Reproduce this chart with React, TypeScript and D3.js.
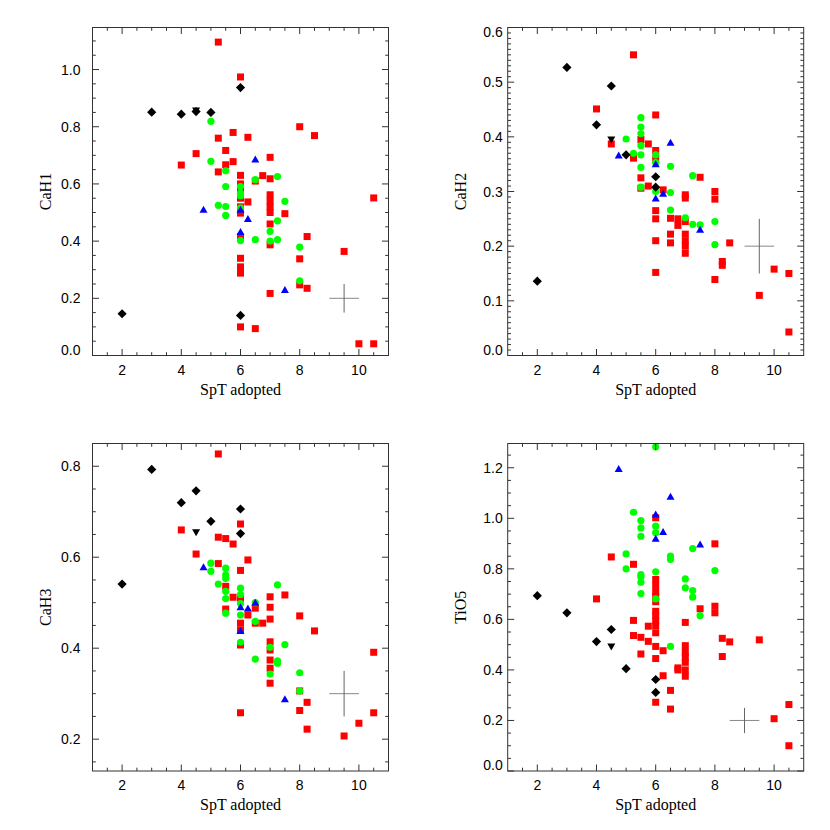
import React from 'react';
import * as d3 from 'd3';

type Pt = [number, number];

// ---------- CaH1 ----------
const cah1Black: Pt[] = [[2,0.146],[3,0.851],[4,0.844],[4.5,0.853],[5,0.85],[6,0.937],[6,0.14]];
const cah1Down: Pt[] = [[4.5,0.857]];
const cah1Red: Pt[] = [[4,0.666],[4.5,0.706],[5.25,1.096],[5.25,0.76],[5.25,0.642],[5.5,0.717],[5.5,0.667],[5.75,0.78],[5.75,0.678],[6,0.974],[6,0.63],[6,0.60],[6,0.58],[6,0.55],[6,0.52],[6,0.498],[6,0.415],[6,0.34],[6,0.31],[6,0.288],[6,0.10],[6.25,0.763],[6.25,0.537],[6.5,0.61],[6.5,0.094],[6.75,0.629],[7,0.693],[7,0.618],[7,0.562],[7,0.54],[7,0.52],[7,0.50],[7,0.46],[7,0.387],[7,0.217],[7.5,0.496],[8,0.80],[8,0.338],[8,0.247],[8.25,0.416],[8.25,0.235],[8.5,0.769],[9.5,0.364],[10,0.041],[10.5,0.041],[10.5,0.551]];
const cah1Green: Pt[] = [[5,0.819],[5,0.679],[5.25,0.525],[5.5,0.646],[5.5,0.591],[5.5,0.521],[5.5,0.49],[6,0.591],[6,0.568],[6,0.559],[6,0.516],[6,0.402],[6.5,0.615],[6.5,0.405],[7,0.434],[7,0.40],[7.25,0.626],[7.25,0.471],[7.25,0.405],[7.5,0.539],[8,0.379],[8,0.261]];
const cah1Blue: Pt[] = [[4.75,0.51],[6,0.51],[6,0.432],[6.25,0.477],[6.5,0.685],[7.5,0.229]];

// ---------- CaH2 ----------
const cah2Black: Pt[] = [[2,0.136],[3,0.527],[4,0.422],[4.5,0.493],[5,0.367],[6,0.327],[6,0.308]];
const cah2Down: Pt[] = [[4.5,0.395]];
const cah2Red: Pt[] = [[4,0.451],[4.5,0.387],[5.25,0.55],[5.25,0.361],[5.5,0.395],[5.5,0.325],[5.5,0.306],[5.75,0.387],[5.75,0.31],[6,0.44],[6,0.375],[6,0.358],[6,0.265],[6,0.25],[6,0.21],[6,0.152],[6.25,0.303],[6.5,0.251],[6.5,0.222],[6.5,0.206],[6.75,0.25],[6.75,0.238],[7,0.294],[7,0.288],[7,0.245],[7,0.222],[7,0.21],[7,0.2],[7,0.187],[7.5,0.326],[8,0.30],[8,0.286],[8,0.139],[8.25,0.172],[8.25,0.165],[8.5,0.206],[9.5,0.11],[10,0.158],[10.5,0.15],[10.5,0.043]];
const cah2Green: Pt[] = [[5,0.396],[5.25,0.37],[5.5,0.435],[5.5,0.418],[5.5,0.406],[5.5,0.384],[5.5,0.367],[5.5,0.344],[5.5,0.308],[6,0.367],[6,0.353],[6,0.3],[6.5,0.346],[6.5,0.298],[6.5,0.266],[7,0.252],[7.25,0.329],[7.25,0.24],[7.5,0.239],[8,0.245],[8,0.203]];
const cah2Blue: Pt[] = [[4.75,0.366],[6,0.35],[6,0.287],[6.25,0.296],[6.5,0.389],[7.5,0.23]];

// ---------- CaH3 ----------
const cah3Black: Pt[] = [[2,0.541],[3,0.793],[4,0.72],[4.5,0.746],[5,0.679],[6,0.706],[6,0.652]];
const cah3Down: Pt[] = [[4.5,0.655]];
const cah3Red: Pt[] = [[4,0.66],[4.5,0.607],[5.25,0.827],[5.25,0.644],[5.25,0.586],[5.5,0.641],[5.5,0.536],[5.5,0.486],[5.75,0.629],[5.75,0.512],[6,0.673],[6,0.571],[6,0.51],[6,0.455],[6,0.44],[6,0.407],[6,0.258],[6.25,0.594],[6.25,0.473],[6.5,0.488],[6.5,0.455],[6.75,0.455],[7,0.513],[7,0.49],[7,0.464],[7,0.414],[7,0.396],[7,0.374],[7,0.356],[7,0.323],[7.5,0.517],[8,0.471],[8,0.306],[8,0.263],[8.25,0.281],[8.25,0.222],[8.5,0.438],[9.5,0.207],[10,0.235],[10.5,0.391],[10.5,0.258]];
const cah3Green: Pt[] = [[5,0.587],[5,0.569],[5.25,0.541],[5.5,0.576],[5.5,0.561],[5.5,0.553],[5.5,0.525],[5.5,0.509],[5.5,0.477],[6,0.532],[6,0.518],[6,0.498],[6,0.473],[6,0.413],[6.5,0.50],[6.5,0.459],[6.5,0.376],[7,0.402],[7,0.343],[7.25,0.539],[7.25,0.372],[7.25,0.367],[7.5,0.408],[8,0.346],[8,0.306]];
const cah3Blue: Pt[] = [[4.75,0.578],[6,0.49],[6,0.438],[6.25,0.487],[6.5,0.50],[7.5,0.288]];

// ---------- TiO5 ----------
const tio5Black: Pt[] = [[2,0.694],[3,0.626],[4,0.512],[4.5,0.56],[5,0.405],[6,0.362],[6,0.311]];
const tio5Down: Pt[] = [[4.5,0.493]];
const tio5Red: Pt[] = [[4,0.681],[4.5,0.847],[5.25,0.818],[5.25,0.596],[5.25,0.536],[5.5,0.529],[5.5,0.463],[5.75,0.573],[5.75,0.513],[6,1.002],[6,0.758],[6,0.735],[6,0.71],[6,0.69],[6,0.67],[6,0.632],[6,0.615],[6,0.595],[6,0.575],[6,0.547],[6,0.493],[6,0.445],[6,0.272],[6.25,0.476],[6.25,0.377],[6.5,0.319],[6.5,0.245],[6.75,0.408],[6.75,0.40],[7,0.588],[7,0.496],[7,0.47],[7,0.45],[7,0.43],[7,0.40],[7,0.375],[7.5,0.642],[8,0.899],[8,0.652],[8,0.626],[8.25,0.525],[8.25,0.453],[8.5,0.511],[9.5,0.519],[10,0.207],[10.5,0.263],[10.5,0.1]];
const tio5Green: Pt[] = [[5,0.859],[5,0.8],[5.25,1.024],[5.5,0.991],[5.5,0.962],[5.5,0.929],[5.5,0.777],[5.5,0.768],[5.5,0.747],[5.5,0.702],[6,1.283],[6,0.969],[6,0.943],[6,0.788],[6,0.681],[6.5,0.85],[6.5,0.837],[6.5,0.493],[7,0.76],[7,0.725],[7.25,0.88],[7.25,0.714],[7.25,0.688],[7.5,0.615],[8,0.793]];
const tio5Blue: Pt[] = [[4.75,1.195],[6,1.015],[6,0.919],[6.25,0.946],[6.5,1.085],[7.5,0.896]];

// axis settings
const xDomain: [number, number] = [1, 11];
const xMajorTicks = [2, 4, 6, 8, 10];
const xMinorStep = 0.5;
const xTitle = 'SpT adopted';
const yTitles = ['CaH1', 'CaH2', 'CaH3', 'TiO5'];
const yDomains: [number, number][] = [[0, 1.147], [0, 0.6], [0.13, 0.85], [0, 1.296]];
const yMajorSteps = [0.2, 0.1, 0.2, 0.2];
const yMinorSteps = [0.05, 0.01, 0.05, 0.05];
// error crosses: [x, y, dx, dy]
const crosses: [number, number, number, number][] = [[9.5, 0.2, 0.5, 0.05], [9.5, 0.2, 0.5, 0.05], [9.5, 0.3, 0.5, 0.05], [9, 0.2, 0.5, 0.05]];

const panelData = [
  { red: cah1Red, green: cah1Green, blue: cah1Blue, black: cah1Black, down: cah1Down },
  { red: cah2Red, green: cah2Green, blue: cah2Blue, black: cah2Black, down: cah2Down },
  { red: cah3Red, green: cah3Green, blue: cah3Blue, black: cah3Black, down: cah3Down },
  { red: tio5Red, green: tio5Green, blue: tio5Blue, black: tio5Black, down: tio5Down },
];

const layout = [
  { x0: 92.5, y0: 27.5, w: 296, h: 328, labelGap: 12 },
  { x0: 507.7, y0: 27.5, w: 296, h: 328, labelGap: 5 },
  { x0: 92.5, y0: 443.5, w: 296, h: 327.5, labelGap: 12 },
  { x0: 507.7, y0: 443.5, w: 296, h: 327.5, labelGap: 5 },
];

function stepTicks(lo: number, hi: number, step: number): number[] {
  const a = Math.ceil(lo / step - 1e-6);
  const b = Math.floor(hi / step + 1e-6);
  return d3.range(a, b + 1).map((i) => +(i * step).toFixed(6));
}

const SANS = 'Liberation Sans, Arial, sans-serif';
const SERIF = 'Liberation Serif, Times New Roman, serif';

function Panel({ idx }: { idx: number }) {
  const L = layout[idx];
  const d = panelData[idx];
  const x = d3.scaleLinear().domain(xDomain).range([L.x0, L.x0 + L.w]);
  const y = d3.scaleLinear().domain(yDomains[idx]).range([L.y0 + L.h, L.y0]);
  const [ylo, yhi] = yDomains[idx];
  const yMaj = stepTicks(ylo, yhi, yMajorSteps[idx]);
  const yMin = stepTicks(ylo, yhi, yMinorSteps[idx]).filter(
    (v) => Math.abs(v / yMajorSteps[idx] - Math.round(v / yMajorSteps[idx])) > 1e-6
  );
  const xMin = stepTicks(xDomain[0], xDomain[1], xMinorStep).filter(
    (v) => !xMajorTicks.includes(v) && v > xDomain[0] && v < xDomain[1]
  );
  const bottom = L.y0 + L.h;
  const right = L.x0 + L.w;
  const majLen = 6.5;
  const minLen = 3.3;
  const tickColor = '#333';
  const s = 3.5; // square half side
  const r = 3.6;
  const dia = 4.6;
  const tri = 4;
  const c = crosses[idx];
  const fmt = d3.format('.1f');
  return (
    <g>
      {/* red squares */}
      {d.red.map((p, i) => (
        <rect key={'r' + i} x={x(p[0]) - s} y={y(p[1]) - s} width={2 * s} height={2 * s} fill="#ff0000" />
      ))}
      {d.green.map((p, i) => (
        <circle key={'g' + i} cx={x(p[0])} cy={y(p[1])} r={r} fill="#00ff00" />
      ))}
      {d.blue.map((p, i) => {
        const cx = x(p[0]);
        const cy = y(p[1]);
        return (
          <path key={'b' + i} d={`M${cx},${cy - tri}L${cx + tri},${cy + tri * 0.75}L${cx - tri},${cy + tri * 0.75}Z`} fill="#0000ff" />
        );
      })}
      {d.black.map((p, i) => {
        const cx = x(p[0]);
        const cy = y(p[1]);
        return (
          <path key={'k' + i} d={`M${cx},${cy - dia}L${cx + dia},${cy}L${cx},${cy + dia}L${cx - dia},${cy}Z`} fill="#000" />
        );
      })}
      {d.down.map((p, i) => {
        const cx = x(p[0]);
        const cy = y(p[1]);
        return (
          <path key={'d' + i} d={`M${cx - tri},${cy - tri * 0.75}L${cx + tri},${cy - tri * 0.75}L${cx},${cy + tri}Z`} fill="#000" />
        );
      })}
      {/* error cross */}
      <line x1={x(c[0] - c[2])} x2={x(c[0] + c[2])} y1={y(c[1])} y2={y(c[1])} stroke="#888" strokeWidth={1} />
      <line x1={x(c[0])} x2={x(c[0])} y1={y(c[1] - c[3])} y2={y(c[1] + c[3])} stroke="#666" strokeWidth={1} />
      {/* frame */}
      <rect x={L.x0} y={L.y0} width={L.w} height={L.h} fill="none" stroke="#333" strokeWidth={1} />
      {/* x ticks */}
      {xMajorTicks.map((v) => (
        <g key={'xm' + v}>
          <line x1={x(v)} x2={x(v)} y1={bottom} y2={bottom - majLen} stroke={tickColor} />
          <line x1={x(v)} x2={x(v)} y1={L.y0} y2={L.y0 + majLen} stroke={tickColor} />
          <text x={x(v)} y={bottom + 19} textAnchor="middle" fontFamily={SANS} fontSize={14} fill="#000">
            {v}
          </text>
        </g>
      ))}
      {xMin.map((v) => (
        <g key={'xn' + v}>
          <line x1={x(v)} x2={x(v)} y1={bottom} y2={bottom - minLen} stroke={tickColor} />
          <line x1={x(v)} x2={x(v)} y1={L.y0} y2={L.y0 + minLen} stroke={tickColor} />
        </g>
      ))}
      {/* y ticks */}
      {yMaj.map((v) => {
        const yy = Math.min(Math.max(y(v), L.y0 + 4), bottom - 6);
        return (
          <g key={'ym' + v}>
            <line x1={L.x0} x2={L.x0 + majLen} y1={y(v)} y2={y(v)} stroke={tickColor} />
            <line x1={right} x2={right - majLen} y1={y(v)} y2={y(v)} stroke={tickColor} />
            <text x={L.x0 - L.labelGap} y={yy} dy="0.36em" textAnchor="end" fontFamily={SANS} fontSize={14} fill="#000">
              {fmt(v)}
            </text>
          </g>
        );
      })}
      {yMin.map((v) => (
        <g key={'yn' + v}>
          <line x1={L.x0} x2={L.x0 + minLen} y1={y(v)} y2={y(v)} stroke={tickColor} />
          <line x1={right} x2={right - minLen} y1={y(v)} y2={y(v)} stroke={tickColor} />
        </g>
      ))}
      {/* titles */}
      <text x={L.x0 + L.w / 2} y={bottom + 39} textAnchor="middle" fontFamily={SERIF} fontSize={16} fill="#000">
        {xTitle}
      </text>
      <text
        transform={`translate(${L.x0 - 47},${L.y0 + L.h / 2}) rotate(-90)`}
        textAnchor="middle"
        dy="0.35em"
        fontFamily={SERIF}
        fontSize={16}
        fill="#000"
      >
        {yTitles[idx]}
      </text>
    </g>
  );
}

export default function App() {
  return (
    <svg width={830} height={830} style={{ position: 'absolute', left: 0, top: 0, background: '#fff' }}>
      <rect width={830} height={830} fill="#fff" />
      {[0, 1, 2, 3].map((i) => (
        <Panel key={i} idx={i} />
      ))}
    </svg>
  );
}
